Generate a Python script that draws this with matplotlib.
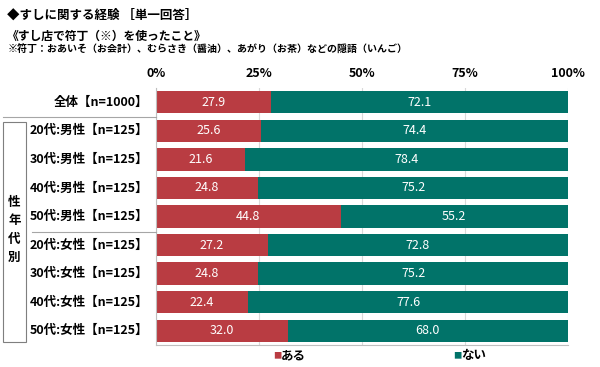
import matplotlib
matplotlib.use('Agg')
import matplotlib.pyplot as plt
import numpy as np

plt.rcParams['font.family'] = ['Noto Sans CJK JP', 'DejaVu Sans']

labels = ['全体【n=1000】',
          '20代:男性【n=125】', '30代:男性【n=125】', '40代:男性【n=125】', '50代:男性【n=125】',
          '20代:女性【n=125】', '30代:女性【n=125】', '40代:女性【n=125】', '50代:女性【n=125】']
aru = [27.9, 25.6, 21.6, 24.8, 44.8, 27.2, 24.8, 22.4, 32.0]
nai = [72.1, 74.4, 78.4, 75.2, 55.2, 72.8, 75.2, 77.6, 68.0]
ticks = [0, 25, 50, 75, 100]

red = '#B93C42'
teal = '#017369'

fig = plt.figure(figsize=(6, 3.67), dpi=100)
ax = fig.add_axes([0.26, 0.06, 0.6867, 0.70])

y = np.arange(len(labels))
ax.barh(y, aru, height=0.78, color=red, zorder=2)
ax.barh(y, nai, left=aru, height=0.78, color=teal, zorder=2)

for i in range(len(labels)):
    ax.text(aru[i] / 2, y[i], f'{aru[i]:.1f}', ha='center', va='center',
            color='white', fontsize=9, zorder=3)
    ax.text(aru[i] + nai[i] / 2, y[i], f'{nai[i]:.1f}', ha='center', va='center',
            color='white', fontsize=9, zorder=3)

ax.set_xlim(0, 100)
ax.set_ylim(len(labels) - 0.5, -0.5)
ax.xaxis.tick_top()
ax.set_xticks(ticks)
ax.set_xticklabels([f'{t}%' for t in ticks], fontsize=9, fontweight='bold')
ax.tick_params(axis='x', length=0, pad=6)
ax.set_yticks([])
ax.grid(axis='x', color='#d9d9d9', linewidth=0.8, zorder=0)
for s in ['top', 'right']:
    ax.spines[s].set_visible(False)
ax.spines['left'].set_color('#bfbfbf')
ax.spines['bottom'].set_color('#bfbfbf')

# row labels
for i, lab in enumerate(labels):
    fig.text(0.247, ax.transData.transform((0, y[i]))[1] / fig.bbox.height, lab,
             ha='right', va='center', fontsize=9, fontweight='bold')

# separator lines and group box
fig.add_artist(plt.Line2D([0.005, 0.26], [1 - 117 / 367, 1 - 117 / 367], color='#a6a6a6', lw=0.8))
fig.add_artist(plt.Line2D([0.053, 0.26], [1 - 232 / 367, 1 - 232 / 367], color='#a6a6a6', lw=0.8))
fig.add_artist(plt.Rectangle((0.005, 1 - 342 / 367), 0.038, (342 - 122) / 367,
                             fill=False, edgecolor='#7f7f7f', lw=0.8))
fig.text(0.024, 1 - 230 / 367, '性\n年\n代\n別', ha='center', va='center',
         fontsize=9, fontweight='bold', linespacing=1.55)

# titles
fig.text(0.012, 1 - 15 / 367, '◆すしに関する経験 ［単一回答］', ha='left', va='center',
         fontsize=9, fontweight='bold')
fig.text(0.012, 1 - 36 / 367, '《すし店で符丁（※）を使ったこと》', ha='left', va='center',
         fontsize=8.5, fontweight='bold')
fig.text(0.012, 1 - 50 / 367, '※符丁：おあいそ（お会計）、むらさき（醤油）、あがり（お茶）などの隠語（いんご）',
         ha='left', va='center', fontsize=7.2, fontweight='bold')

# legend
fig.text(0.455, 1 - 356 / 367, '■', color=red, ha='left', va='center', fontsize=6)
fig.text(0.468, 1 - 356 / 367, 'ある', ha='left', va='center', fontsize=9, fontweight='bold')
fig.text(0.755, 1 - 356 / 367, '■', color=teal, ha='left', va='center', fontsize=6)
fig.text(0.768, 1 - 356 / 367, 'ない', ha='left', va='center', fontsize=9, fontweight='bold')

fig.savefig('out.png', dpi=100)
